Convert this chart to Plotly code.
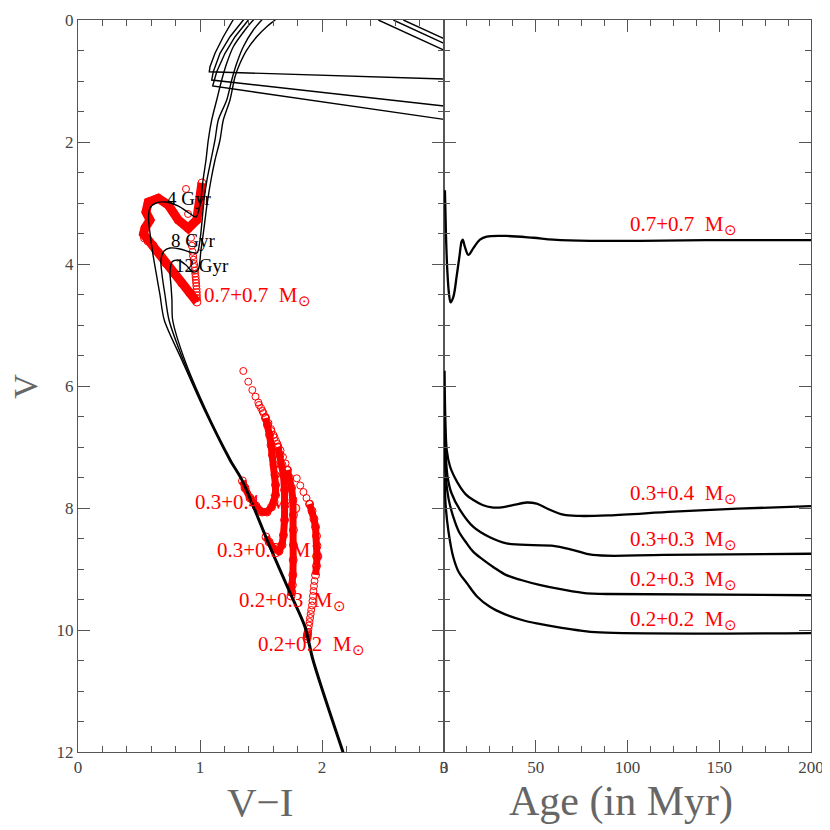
import plotly.graph_objects as go

# ---------------- Left panel data (V-I, V) ----------------
# isochrones
iso4_vi = [2.165, 1.919, 1.854, 1.731, 1.567, 1.337, 1.239, 1.034, 0.850,
           0.707, 0.672, 0.639, 0.611, 0.590, 0.578, 0.590, 0.639, 0.721, 0.820, 0.910, 0.967,
           1.000, 1.025, 1.049, 1.068, 1.096, 1.137, 1.178, 1.219, 1.273, 1.369, 1.437, 1.508]
iso4_v = [12.0, 10.49, 9.95, 9.39, 8.64, 7.54, 7.21, 6.39, 5.57,
          4.918, 4.508, 4.131, 3.803, 3.492, 3.246, 3.082, 3.000, 2.984, 3.049, 3.164, 3.230,
          3.033, 2.623, 2.295, 1.967, 1.639, 1.311, 0.984, 0.710, 0.438, 0.164, 0.0, -0.131]

iso8_vi = [2.172, 1.926, 1.861, 1.738, 1.574, 1.344, 1.246, 1.041, 0.862,
           0.746, 0.713, 0.689, 0.680, 0.705, 0.754, 0.836, 0.918, 0.975, 1.000, 1.016, 1.033,
           1.057, 1.090, 1.123, 1.150, 1.219, 1.260, 1.301, 1.355, 1.437, 1.506, 1.574]
iso8_v = [12.0, 10.49, 9.95, 9.39, 8.64, 7.54, 7.21, 6.39, 5.57,
          4.918, 4.508, 4.180, 3.934, 3.787, 3.738, 3.754, 3.803, 3.820, 3.607, 3.311, 2.951,
          2.623, 2.295, 1.967, 1.639, 1.311, 0.984, 0.710, 0.438, 0.164, 0.0, -0.131]

iso12_vi = [2.179, 1.933, 1.868, 1.745, 1.581, 1.351, 1.253, 1.048, 0.874,
            0.776, 0.770, 0.762, 0.754, 0.770, 0.820, 0.885, 0.943, 0.984, 1.008, 1.033, 1.057,
            1.090, 1.123, 1.164, 1.191, 1.246, 1.287, 1.328, 1.383, 1.465, 1.547, 1.615, 1.680]
iso12_v = [12.0, 10.49, 9.95, 9.39, 8.64, 7.54, 7.21, 6.39, 5.57,
           4.918, 4.590, 4.344, 4.131, 3.967, 3.934, 4.016, 4.131, 4.098, 3.770, 3.410, 3.033,
           2.623, 2.295, 1.967, 1.639, 1.311, 0.930, 0.710, 0.492, 0.274, 0.110, 0.0, -0.115]

# post-RGB branches (hook + horizontal branch)
hb1_vi = [1.328, 1.273, 1.191, 1.123, 1.082, 1.076, 3.0]
hb1_v = [-0.197, 0.0, 0.274, 0.546, 0.766, 0.848, 0.967]
hb2_vi = [1.410, 1.355, 1.246, 1.164, 1.109, 1.096, 3.0]
hb2_v = [-0.197, 0.0, 0.274, 0.546, 0.848, 0.984, 1.41]
hb3_vi = [1.450, 1.396, 1.287, 1.205, 1.137, 1.104, 3.0]
hb3_v = [-0.197, 0.0, 0.274, 0.546, 0.848, 1.082, 1.63]

# bright branches (top right)
agb1_vi = [2.462, 2.995]
agb1_v = [0.0, 0.49]
agb2_vi = [2.585, 2.995]
agb2_v = [0.0, 0.38]
agb3_vi = [2.667, 2.995]
agb3_v = [0.0, 0.30]

# binary tracks (open circles); "sparse" = separated circles, "dense" = overlapping band
b77_sparse_vi = [0.885, 0.902, 0.926, 0.933, 0.939, 0.943, 0.947, 0.951, 0.955, 0.958,
                 0.961, 0.964, 0.966, 0.968, 0.970, 0.972, 0.973, 0.974, 0.975]
b77_sparse_v = [2.77, 3.18, 3.57, 3.70, 3.80, 3.87, 3.93, 4.00, 4.05, 4.11,
                4.16, 4.21, 4.26, 4.31, 4.36, 4.41, 4.46, 4.51, 4.56]
b77_dense_vi = [0.975, 0.918, 0.852, 0.787, 0.721, 0.660, 0.615, 0.574, 0.545, 0.537, 0.549,
                0.590, 0.557, 0.576, 0.658, 0.740, 0.822, 0.904, 0.973, 1.000, 1.016]
b77_dense_v = [4.623, 4.480, 4.316, 4.152, 3.989, 3.811, 3.697, 3.623, 3.574, 3.508, 3.410,
               3.279, 3.148, 2.984, 2.923, 3.033, 3.279, 3.415, 3.279, 3.000, 2.672]

b34_sparse_vi = [1.355, 1.396, 1.429, 1.455, 1.478, 1.500, 1.520, 1.537]
b34_sparse_v = [5.754, 5.930, 6.066, 6.175, 6.270, 6.361, 6.443, 6.525]
b34_dense_vi = [1.537, 1.553, 1.570, 1.582, 1.594, 1.607, 1.615, 1.619, 1.619, 1.607, 1.586,
                1.549, 1.508, 1.459, 1.410, 1.369, 1.348]
b34_dense_v = [6.525, 6.639, 6.803, 6.967, 7.131, 7.295, 7.459, 7.623, 7.787, 7.902, 7.984,
               8.066, 8.066, 7.967, 7.836, 7.672, 7.557]

b33_sparse_vi = [1.484, 1.512, 1.537, 1.561, 1.582, 1.602, 1.623, 1.639]
b33_sparse_v = [6.311, 6.410, 6.508, 6.607, 6.705, 6.803, 6.902, 7.000]
b33_dense_vi = [1.639, 1.656, 1.672, 1.684, 1.693, 1.697, 1.693, 1.684, 1.672, 1.648, 1.607,
                1.566, 1.541]
b33_dense_v = [7.000, 7.131, 7.295, 7.459, 7.705, 7.951, 8.197, 8.443, 8.607, 8.705, 8.672,
               8.557, 8.475]

b23_sparse_vi = [1.557, 1.586, 1.611, 1.635, 1.660, 1.680, 1.701, 1.717]
b23_sparse_v = [6.639, 6.738, 6.844, 6.951, 7.057, 7.164, 7.270, 7.377]
b23_dense_vi = [1.717, 1.734, 1.750, 1.762, 1.766, 1.766, 1.766, 1.764, 1.761, 1.757, 1.752, 1.746]
b23_dense_v = [7.377, 7.508, 7.672, 7.869, 8.115, 8.361, 8.607, 8.852, 9.098, 9.262, 9.377, 9.443]

b22_sparse_vi = [1.793, 1.822, 1.848, 1.873, 1.898,
                 1.939, 1.934, 1.930, 1.926, 1.922, 1.918, 1.912, 1.907, 1.902, 1.898,
                 1.893, 1.889, 1.885, 1.881, 1.880]
b22_sparse_v = [7.513, 7.631, 7.738, 7.836, 7.934,
                9.197, 9.279, 9.361, 9.443, 9.525, 9.598, 9.672, 9.738, 9.803, 9.869,
                9.926, 9.984, 10.033, 10.074, 10.110]
b22_dense_vi = [1.898, 1.918, 1.934, 1.947, 1.955, 1.959, 1.959, 1.955, 1.947]
b22_dense_v = [7.934, 8.049, 8.180, 8.311, 8.459, 8.623, 8.787, 8.951, 9.098]
b22_end_vi = [1.882, 1.879, 1.877]
b22_end_v = [10.06, 10.10, 10.14]

# ---------------- Right panel data (Age in Myr, V) ----------------
age77 = [0.5, 1.1, 1.8, 2.7, 3.6, 5.1, 6.9, 8.4, 9.6, 10.2, 11.4, 13.3, 16.0, 19.6, 23.3,
         34, 48.7, 59.6, 79.6, 107, 143, 200]
v77 = [2.79, 3.55, 4.10, 4.48, 4.63, 4.54, 4.20, 3.88, 3.63, 3.60, 3.72, 3.85, 3.74, 3.60, 3.55,
       3.54, 3.57, 3.60, 3.62, 3.62, 3.61, 3.61]
age34 = [0.3, 0.7, 1.5, 3.3, 6.0, 8.7, 12, 16, 21, 26, 31.4, 38, 45, 50.5, 57, 65, 74, 90, 125, 160, 200]
v34 = [5.75, 6.50, 7.05, 7.32, 7.51, 7.65, 7.78, 7.87, 7.95, 7.99, 7.99, 7.95, 7.91, 7.93, 8.02,
       8.11, 8.13, 8.12, 8.06, 8.01, 7.97]
age33 = [0.3, 1.0, 2.0, 4.0, 8.7, 16, 25, 34, 48.7, 59.6, 70.5, 81, 120, 200]
v33 = [6.35, 7.15, 7.50, 7.75, 8.03, 8.31, 8.48, 8.58, 8.61, 8.62, 8.69, 8.77, 8.77, 8.75]
age23 = [0.3, 1.0, 2.5, 5.0, 8.0, 12.4, 16, 21.4, 27, 34, 42, 52, 65, 77.8, 88.7, 200]
v23 = [6.70, 7.50, 7.85, 8.14, 8.38, 8.58, 8.72, 8.85, 8.97, 9.10, 9.18, 9.26, 9.34, 9.40, 9.41, 9.43]
age22 = [0.3, 1.0, 2.5, 5.0, 8.0, 12.4, 18, 25, 33, 43, 52, 61, 72, 85, 200]
v22 = [7.50, 8.00, 8.40, 8.80, 9.05, 9.23, 9.45, 9.62, 9.74, 9.84, 9.90, 9.95, 10.00, 10.04, 10.05]

# labels
pair_labels = ["0.7+0.7", "0.3+0.4", "0.3+0.3", "0.2+0.3", "0.2+0.2"]
left_label_vi = [1.016, 0.94, 1.12, 1.30, 1.46]
left_label_v = [4.52, 7.92, 8.70, 9.52, 10.25]
right_label_age = [100, 100, 100, 100, 100]
right_label_v = [3.36, 7.77, 8.52, 9.18, 9.84]
iso_labels = ["4 Gyr", "8 Gyr", "12 Gyr"]
iso_label_vi = [0.713, 0.746, 0.78]
iso_label_v = [2.92, 3.61, 4.02]

RED = "#ff0000"
FONT = "Liberation Serif"

fig = go.Figure()


def line(x, y, w, color="black", xa="x", ya="y", shape="linear", smoothing=1.0):
    ln = dict(color=color, width=w, shape=shape)
    if shape == "spline":
        ln["smoothing"] = smoothing
    fig.add_trace(go.Scatter(x=x, y=y, mode="lines", xaxis=xa, yaxis=ya, line=ln,
                             showlegend=False, hoverinfo="skip"))


def circles(x, y):
    fig.add_trace(go.Scatter(x=x, y=y, mode="markers", xaxis="x", yaxis="y",
                             marker=dict(symbol="circle-open", size=7, color=RED,
                                         line=dict(width=1, color=RED)),
                             showlegend=False, hoverinfo="skip"))


def band(x, y, w=6):
    fig.add_trace(go.Scatter(x=x, y=y, mode="lines+markers", xaxis="x", yaxis="y",
                             line=dict(color=RED, width=w),
                             marker=dict(symbol="circle-open", size=8, color=RED,
                                         line=dict(width=1, color=RED)),
                             showlegend=False, hoverinfo="skip"))


# red binary tracks
band(b77_dense_vi, b77_dense_v, 9)
circles(b77_sparse_vi, b77_sparse_v)
for sx, sy, dx, dy in [(b34_sparse_vi, b34_sparse_v, b34_dense_vi, b34_dense_v),
                       (b33_sparse_vi, b33_sparse_v, b33_dense_vi, b33_dense_v),
                       (b23_sparse_vi, b23_sparse_v, b23_dense_vi, b23_dense_v),
                       (b22_sparse_vi, b22_sparse_v, b22_dense_vi, b22_dense_v)]:
    circles(sx, sy)
    band(dx, dy, 7)
band(b22_end_vi, b22_end_v, 7)

# black isochrones on top
for xs, ys in [(iso4_vi, iso4_v), (iso8_vi, iso8_v), (iso12_vi, iso12_v)]:
    line(xs, ys, 1.4, shape="spline", smoothing=0.8)
for xs, ys in [(hb1_vi, hb1_v), (hb2_vi, hb2_v), (hb3_vi, hb3_v),
               (agb1_vi, agb1_v), (agb2_vi, agb2_v), (agb3_vi, agb3_v)]:
    line(xs, ys, 1.4)

# right panel curves
for a, v in [(age77, v77), (age34, v34), (age33, v33), (age23, v23), (age22, v22)]:
    line(a, v, 2.3, xa="x2", ya="y2", shape="spline")

ann = []
for t, x, y in zip(pair_labels, left_label_vi, left_label_v):
    ann.append(dict(x=x, y=y, xref="x", yref="y", text=t + "  M<sub>⊙</sub>",
                    showarrow=False, xanchor="left", yanchor="middle",
                    font=dict(family=FONT, size=21, color=RED)))
for t, x, y in zip(pair_labels, right_label_age, right_label_v):
    ann.append(dict(x=x, y=y, xref="x2", yref="y2", text=t + "  M<sub>⊙</sub>",
                    showarrow=False, xanchor="left", yanchor="middle",
                    font=dict(family=FONT, size=21, color=RED)))
for t, x, y in zip(iso_labels, iso_label_vi, iso_label_v):
    ann.append(dict(x=x, y=y, xref="x", yref="y", text=t, showarrow=False,
                    xanchor="left", yanchor="middle",
                    font=dict(family=FONT, size=19, color="black")))
# axis titles
ann.append(dict(x=0.248, y=-0.068, xref="paper", yref="paper", text="V−I", showarrow=False,
                xanchor="center", yanchor="middle", font=dict(family=FONT, size=41, color="#666")))
ann.append(dict(x=0.741, y=-0.068, xref="paper", yref="paper", text="Age (in Myr)", showarrow=False,
                xanchor="center", yanchor="middle", font=dict(family=FONT, size=42, color="#666")))
ann.append(dict(x=-0.0725, y=0.5, xref="paper", yref="paper", text="V", showarrow=False,
                textangle=-90, xanchor="center", yanchor="middle",
                font=dict(family=FONT, size=34, color="#666")))

AX = dict(showgrid=False, zeroline=False, showline=True, linecolor="#555", linewidth=1,
          ticks="inside", ticklen=12, tickcolor="#555", tickwidth=1, mirror="ticks",
          automargin=False, tickfont=dict(family=FONT, size=17, color="#444"))
split = 366 / 733

# page body adds an 8px offset; figure is sized so the plot lands at x 78-811, y 20-752
fig.update_layout(
    width=822, height=822,
    margin=dict(l=70, r=19, t=12, b=78, autoexpand=False),
    paper_bgcolor="white", plot_bgcolor="white",
    hovermode=False,
    annotations=ann,
    xaxis=dict(AX, domain=[0, split], range=[0, 3], dtick=1, tick0=0,
               minor=dict(dtick=0.2, ticklen=6, ticks="inside", tickcolor="#555")),
    xaxis2=dict(AX, domain=[split, 1], range=[0, 200], dtick=50, tick0=0, anchor="y2",
                minor=dict(dtick=12.5, ticklen=6, ticks="inside", tickcolor="#555")),
    yaxis=dict(AX, range=[12, 0], dtick=2, tick0=0, anchor="x",
               minor=dict(dtick=0.5, ticklen=6, ticks="inside", tickcolor="#555")),
    yaxis2=dict(AX, range=[12, 0], dtick=2, tick0=0, anchor="x2", showticklabels=False,
                minor=dict(dtick=0.5, ticklen=6, ticks="inside", tickcolor="#555")),
)

fig.write_html("out.html")
